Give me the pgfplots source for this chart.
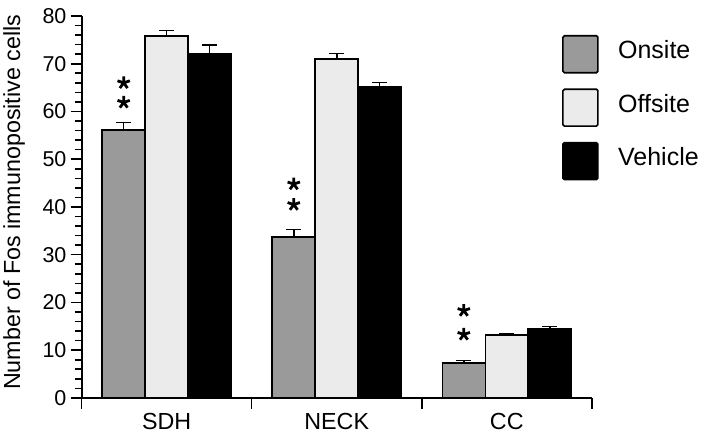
\documentclass[border=0pt]{standalone}
\usepackage{pgfplots}
\pgfplotsset{compat=1.18}
\usepackage{fontspec}
\setmainfont{Liberation Sans}
\definecolor{onsite}{HTML}{9A9A9A}
\definecolor{offsite}{HTML}{EBEBEB}
\newcommand{\fs}{\fontsize{23.3bp}{27bp}\selectfont}
\newcommand{\fsy}{\fontsize{21.5bp}{25bp}\selectfont}
\newcommand{\fsl}{\fontsize{25bp}{29bp}\selectfont}
\pgfplotsset{
  barlegend/.style={legend image code/.code={\draw[##1,line width=1.6bp,rounded corners=1.5bp] (0bp,-14bp) rectangle (35bp,23bp);}},
  myerr/.style={error bars/.cd, y dir=plus, y explicit,
    error bar style={line width=1.6bp, black},
    error mark options={rotate=90, mark size=7.5bp, line width=1.6bp, black}},
}
\begin{document}
\begin{tikzpicture}
\begin{axis}[
  at={(0,0)}, anchor=south west,
  scale only axis, width=510.7bp, height=382.3bp,
  xmin=-0.5, xmax=2.5, ymin=0, ymax=80,
  axis x line*=bottom, axis y line*=left,
  axis line style={line width=1.8bp, -},
  ybar=0pt, bar width=43bp,
  xtick={-0.5,0.5,1.5,2.5}, xticklabels={},
  extra x ticks={0,1,2}, extra x tick labels={SDH,NECK,CC},
  extra x tick style={tick style={draw=none}},
  ytick={0,10,...,80}, minor y tick num=4,
  tick align=outside, major tick length=11bp, minor tick length=7bp,
  tick style={line width=1.6bp, black},
  /pgf/number format/assume math mode=true,
  xticklabel style={font=\fs, inner sep=1bp, yshift=-3bp},
  yticklabel style={font=\fsy, inner sep=4bp},
  ylabel={Number of Fos immunopositive cells},
  ylabel style={font=\fs, at={(axis description cs:-0.1322,0.512)}, anchor=center},
  legend style={draw=none, fill=none, inner sep=0pt, outer sep=0pt, font=\fsl,
    at={(0.9418,0.9503)}, anchor=north west, row sep=14.9bp,
    nodes={inner sep=0pt, anchor=base west},
    /tikz/every odd column/.append style={column sep=19.5bp}},
  legend cell align=left,
]
\addplot[fill=onsite, draw=black, line width=1.6bp, bar shift=-43bp, barlegend, myerr]
  coordinates {(0,56.15) +- (0,1.5) (1,33.65) +- (0,1.6) (2,7.35) +- (0,0.5)};
\addlegendentry{Onsite}
\addplot[fill=offsite, draw=black, line width=1.6bp, bar shift=0bp, barlegend, myerr]
  coordinates {(0,75.75) +- (0,1.2) (1,70.95) +- (0,1.2) (2,13.15) +- (0,0.3)};
\addlegendentry{Offsite}
\addplot[fill=black, draw=black, line width=1.6bp, bar shift=43bp, barlegend, myerr]
  coordinates {(0,72.15) +- (0,1.8) (1,65.15) +- (0,0.9) (2,14.55) +- (0,0.4)};
\addlegendentry{Vehicle}
\addplot[forget plot, only marks, bar shift=0pt, mark=star, mark size=6.5bp,
  mark options={line width=2.8bp, black}]
  coordinates {(-0.2526,66.0) (-0.2526,61.9) (0.7474,44.8) (0.7474,40.5) (1.7474,18.3) (1.7474,13.3)};
\end{axis}
\path (-81bp,-36.7bp) rectangle (639bp,398.3bp);
\end{tikzpicture}
\end{document}
